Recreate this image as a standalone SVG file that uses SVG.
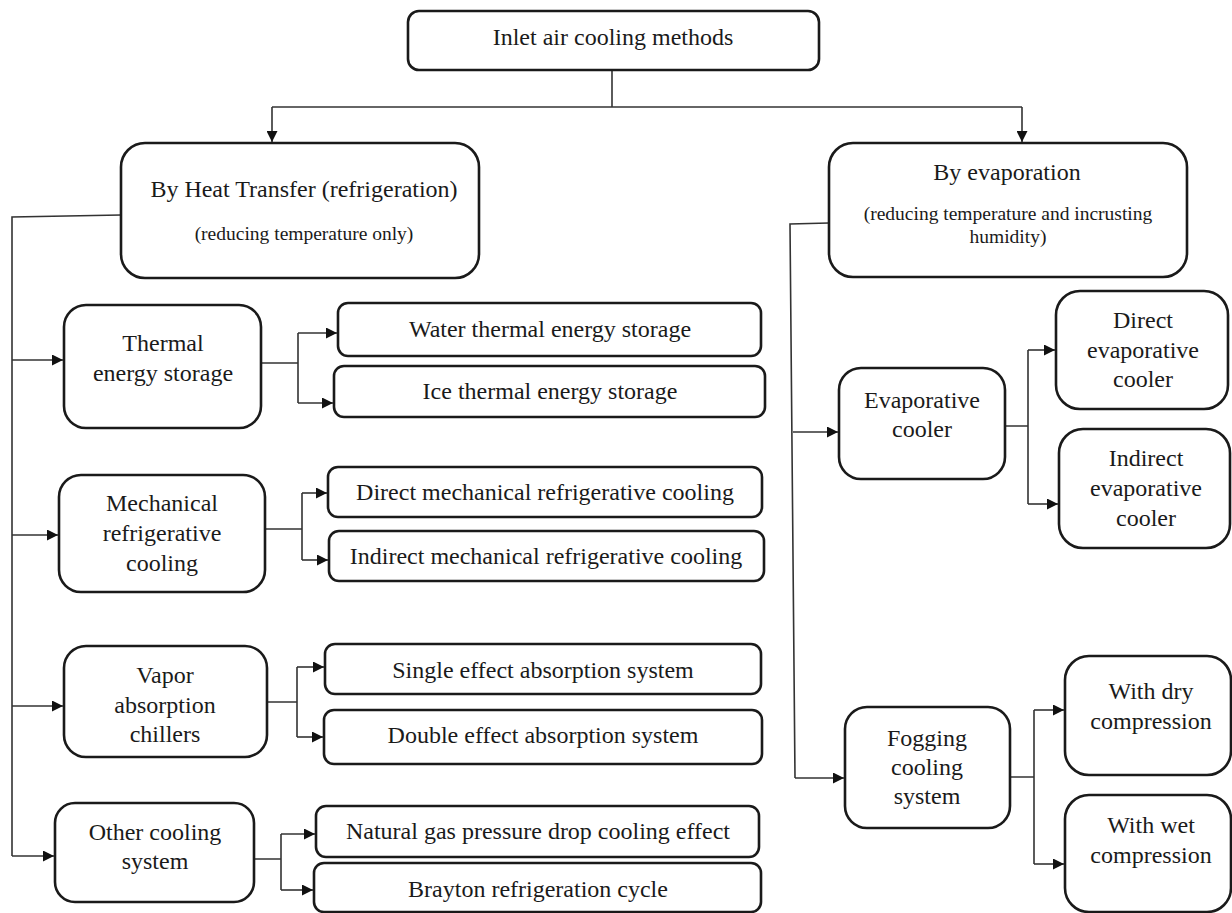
<svg xmlns="http://www.w3.org/2000/svg" width="1232" height="913" viewBox="0 0 1232 913" font-family="Liberation Serif">
<defs>
<marker id="ah" viewBox="0 0 10 10" refX="10" refY="5" markerWidth="11" markerHeight="11" markerUnits="userSpaceOnUse" orient="auto">
<path d="M0,0 L10,5 L0,10 Z" fill="#111"/>
</marker>
<style>
.box{fill:#fff;stroke:#1a1a1a;stroke-width:2.6}
.t{font-size:24px;fill:#1a1a1a;text-anchor:middle}
.s{font-size:19.5px;fill:#1a1a1a;text-anchor:middle}
.ln{fill:none;stroke:#333;stroke-width:1.6}
.ar{fill:none;stroke:#333;stroke-width:1.6;marker-end:url(#ah)}
</style>
</defs>
<rect width="1232" height="913" fill="#fff"/>

<g id="connectors">
<path class="ln" d="M612,70 V107"/>
<path class="ln" d="M272,107 H1022"/>
<path class="ar" d="M272,107 V142"/>
<path class="ar" d="M1022,107 V142"/>

<path class="ln" d="M121,215 L12,217 V856"/>
<path class="ar" d="M12,360 H63"/>
<path class="ar" d="M12,535 H58"/>
<path class="ar" d="M12,706 H63"/>
<path class="ar" d="M12,856 H54"/>

<path class="ln" d="M261,363 H298 M298,333 V403"/>
<path class="ar" d="M298,333 H337"/>
<path class="ar" d="M298,403 H333"/>

<path class="ln" d="M265,529 H302 M302,493 V560"/>
<path class="ar" d="M302,493 H327"/>
<path class="ar" d="M302,560 H328"/>

<path class="ln" d="M267,702 H297 M297,667 V737"/>
<path class="ar" d="M297,667 H324"/>
<path class="ar" d="M297,737 H323"/>

<path class="ln" d="M254,859 H281 M281,834 V890"/>
<path class="ar" d="M281,834 H315"/>
<path class="ar" d="M281,890 H313"/>

<path class="ln" d="M829,223 L790,224 L795,778"/>
<path class="ar" d="M793,432 H838"/>
<path class="ar" d="M795,778 H844"/>

<path class="ln" d="M1005,426 H1028 M1028,350 V504"/>
<path class="ar" d="M1028,350 H1055"/>
<path class="ar" d="M1028,504 H1058"/>

<path class="ln" d="M1010,777 H1034 M1034,710 V864"/>
<path class="ar" d="M1034,710 H1064"/>
<path class="ar" d="M1034,864 H1064"/>
</g>

<g id="root">
<rect class="box" x="408" y="11" width="411" height="59" rx="11"/>
<text class="t" x="613" y="45">Inlet air cooling methods</text>
</g>

<g id="heat-transfer">
<rect class="box" x="121" y="143" width="358" height="135" rx="24"/>
<text class="t" x="304" y="197">By Heat Transfer (refrigeration)</text>
<text class="s" x="304" y="240">(reducing temperature only)</text>
</g>

<g id="evaporation">
<rect class="box" x="829" y="143" width="358" height="134" rx="24"/>
<text class="t" x="1007" y="180">By evaporation</text>
<text class="s" x="1008" y="220">(reducing temperature and incrusting</text>
<text class="s" x="1008" y="243">humidity)</text>
</g>

<g id="thermal-energy-storage">
<rect class="box" x="64" y="305" width="197" height="123" rx="22"/>
<text class="t" x="163" y="351">Thermal</text>
<text class="t" x="163" y="381">energy storage</text>
</g>
<g id="water-tes">
<rect class="box" x="338" y="303" width="423" height="53" rx="10"/>
<text class="t" x="550" y="337">Water thermal energy storage</text>
</g>
<g id="ice-tes">
<rect class="box" x="334" y="366" width="431" height="51" rx="10"/>
<text class="t" x="550" y="399">Ice thermal energy storage</text>
</g>

<g id="mechanical">
<rect class="box" x="59" y="475" width="206" height="117" rx="22"/>
<text class="t" x="162" y="511">Mechanical</text>
<text class="t" x="162" y="541">refrigerative</text>
<text class="t" x="162" y="571">cooling</text>
</g>
<g id="direct-mech">
<rect class="box" x="328" y="467" width="434" height="50" rx="10"/>
<text class="t" x="545" y="500">Direct mechanical refrigerative cooling</text>
</g>
<g id="indirect-mech">
<rect class="box" x="329" y="531" width="435" height="50" rx="10"/>
<text class="t" x="546" y="564">Indirect mechanical refrigerative cooling</text>
</g>

<g id="vapor">
<rect class="box" x="64" y="646" width="203" height="111" rx="22"/>
<text class="t" x="165" y="683">Vapor</text>
<text class="t" x="165" y="713">absorption</text>
<text class="t" x="165" y="742">chillers</text>
</g>
<g id="single-effect">
<rect class="box" x="325" y="644" width="436" height="50" rx="10"/>
<text class="t" x="543" y="678">Single effect absorption system</text>
</g>
<g id="double-effect">
<rect class="box" x="324" y="710" width="438" height="54" rx="10"/>
<text class="t" x="543" y="743">Double effect absorption system</text>
</g>

<g id="other">
<rect class="box" x="55" y="803" width="199" height="99" rx="20"/>
<text class="t" x="155" y="840">Other cooling</text>
<text class="t" x="155" y="869">system</text>
</g>
<g id="natural-gas">
<rect class="box" x="316" y="806" width="443" height="51" rx="10"/>
<text class="t" x="538" y="839">Natural gas pressure drop cooling effect</text>
</g>
<g id="brayton">
<rect class="box" x="314" y="863" width="447" height="49" rx="10"/>
<text class="t" x="538" y="897">Brayton refrigeration cycle</text>
</g>

<g id="evaporative-cooler">
<rect class="box" x="839" y="368" width="166" height="111" rx="22"/>
<text class="t" x="922" y="408">Evaporative</text>
<text class="t" x="922" y="437">cooler</text>
</g>
<g id="direct-evap">
<rect class="box" x="1056" y="291" width="172" height="118" rx="24"/>
<text class="t" x="1143" y="328">Direct</text>
<text class="t" x="1143" y="358">evaporative</text>
<text class="t" x="1143" y="387">cooler</text>
</g>
<g id="indirect-evap">
<rect class="box" x="1059" y="429" width="171" height="119" rx="24"/>
<text class="t" x="1146" y="466">Indirect</text>
<text class="t" x="1146" y="496">evaporative</text>
<text class="t" x="1146" y="526">cooler</text>
</g>

<g id="fogging">
<rect class="box" x="845" y="707" width="165" height="121" rx="22"/>
<text class="t" x="927" y="746">Fogging</text>
<text class="t" x="927" y="775">cooling</text>
<text class="t" x="927" y="804">system</text>
</g>
<g id="dry-compression">
<rect class="box" x="1065" y="656" width="166" height="119" rx="24"/>
<text class="t" x="1151" y="699">With dry</text>
<text class="t" x="1151" y="729">compression</text>
</g>
<g id="wet-compression">
<rect class="box" x="1065" y="795" width="166" height="117" rx="24"/>
<text class="t" x="1151" y="833">With wet</text>
<text class="t" x="1151" y="863">compression</text>
</g>
</svg>
